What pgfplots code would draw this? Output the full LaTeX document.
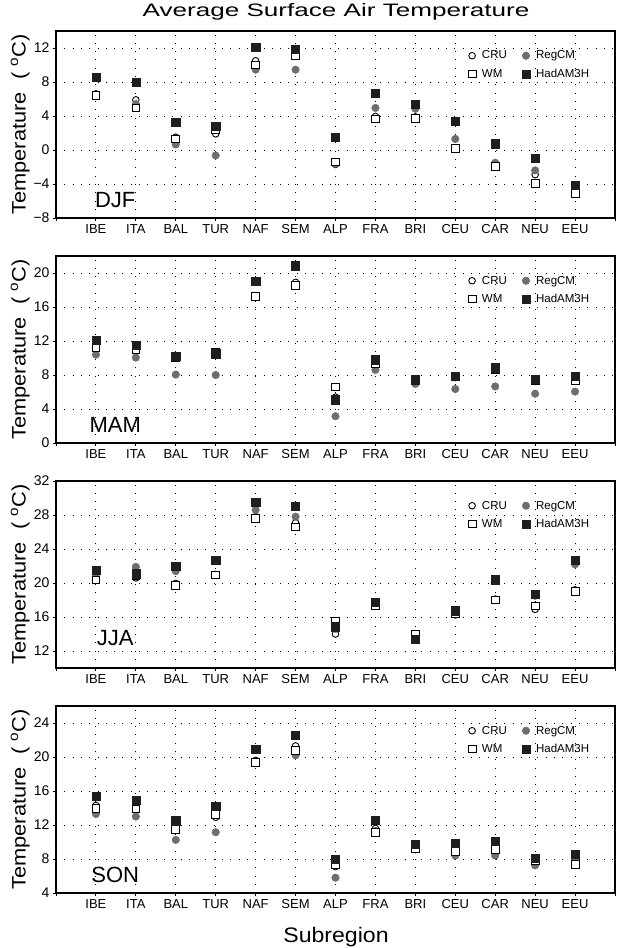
\documentclass[border=0pt]{standalone}
\usepackage{pgfplots}
\pgfplotsset{compat=1.18}
\usepackage{pgfplotstable}
\usepackage{fontspec}
\setmainfont{Liberation Sans}
\definecolor{regc}{HTML}{6E6E6E}
\definecolor{hadc}{HTML}{1E1E1E}

\pgfplotstableread{
x cru reg wm had
1 6.6 6.4 6.4 8.55
2 5.9 5.4 4.95 7.95
3 1.5 0.65 1.3 3.3
4 1.9 -0.65 2.4 2.8
5 10.5 9.45 10.0 12.1
6 11.4 9.45 11.1 11.9
7 -1.7 -1.6 -1.4 1.5
8 3.95 4.95 3.65 6.7
9 3.9 4.85 3.7 5.4
10 0.25 1.3 0.15 3.35
11 -1.8 -1.5 -1.9 0.75
12 -2.9 -2.4 -3.95 -0.95
13 -5.0 -4.5 -5.1 -4.15
}\djf

\pgfplotstableread{
x cru reg wm had
1 11.4 10.4 11.25 12.05
2 11.0 10.05 10.95 11.55
3 10.1 8.05 10.0 10.2
4 10.6 8.0 10.7 10.5
5 17.3 17.2 17.2 19.0
6 18.9 18.6 18.55 20.85
7 5.4 3.15 6.6 5.1
8 9.5 8.6 9.4 9.8
9 7.3 6.95 7.3 7.45
10 7.7 6.35 7.8 7.9
11 8.7 6.65 8.6 8.85
12 7.4 5.8 7.4 7.5
13 7.4 6.05 7.3 7.9
}\mam

\pgfplotstableread{
x cru reg wm had
1 20.7 21.0 20.35 21.5
2 20.6 21.9 20.9 21.1
3 19.95 21.4 19.7 22.0
4 21.0 22.6 20.95 22.7
5 27.8 28.6 27.55 29.55
6 27.1 27.8 26.6 29.0
7 14.0 14.6 15.5 14.85
8 17.3 17.6 17.4 17.7
9 13.8 13.6 13.95 13.4
10 16.25 16.6 16.4 16.75
11 18.1 20.3 18.0 20.4
12 16.9 18.5 17.3 18.65
13 19.2 22.2 19.0 22.7
}\jja

\pgfplotstableread{
x cru reg wm had
1 14.3 13.3 13.95 15.35
2 14.2 13.0 13.9 14.9
3 11.8 10.25 11.5 12.5
4 12.9 11.15 13.25 14.25
5 19.6 19.4 19.4 20.95
6 21.3 20.2 20.8 22.6
7 7.1 5.8 7.3 7.95
8 11.6 11.3 11.15 12.6
9 9.1 9.2 9.2 9.75
10 8.8 8.4 8.9 9.85
11 9.2 8.4 9.15 10.05
12 7.6 7.25 7.8 8.05
13 7.6 8.0 7.4 8.55
}\son

\pgfplotsset{
  mk/.style={only marks, legend image code/.code={\draw[##1] plot coordinates {(0pt,0pt)};}},
  cru/.style={mk, black, mark=*, mark size=3.3pt, mark options={fill=white, draw=black, line width=0.9pt}},
  reg/.style={mk, regc, mark=*, mark size=3.8pt, mark options={fill=regc, draw=regc}},
  wm/.style={mk, black, mark=square*, mark size=3.9pt, mark options={fill=white, draw=black, line width=0.9pt}},
  had/.style={mk, hadc, mark=square*, mark size=4.1pt, mark options={fill=hadc, draw=hadc}},
  panel/.style={
    width=559pt, height=187pt, scale only axis,
    xmin=0, xmax=14, xtick={0,...,14},
    xticklabels={,IBE,ITA,BAL,TUR,NAF,SEM,ALP,FRA,BRI,CEU,CAR,NEU,EEU,},
    tick align=outside, xtick pos=left, ytick pos=left,
    major tick length=3pt,
    every tick/.style={black, line width=1pt},
    axis line style={black, line width=1.2pt},
    xmajorgrids, ymajorgrids,
    grid style={black, line width=0.9pt, dash pattern=on 0.9pt off 7.4pt},
    x tick label style={font=\fontsize{13}{13}\selectfont},
    y tick label style={font=\fontsize{14}{14}\selectfont},
    ylabel={\scalebox{1.12}[1]{Temperature~~(~\textsuperscript{o}C)}},
    ylabel style={at={(axis description cs:-0.064,0.5)}, anchor=center, font=\fontsize{19.5}{19.5}\selectfont},
    legend columns=2,
    legend style={draw=none, fill=none, at={(axis description cs:0.737,0.905)}, anchor=north west,
      font=\fontsize{11.5}{11.5}\selectfont, inner sep=0pt, row sep=4.5pt,
      /tikz/every odd column/.append style={column sep=4pt},
      /tikz/every even column/.append style={column sep=13pt}},
    legend cell align=left,
  },
}

\begin{document}
\begin{tikzpicture}
\useasboundingbox (0pt,0pt) rectangle (619pt,-948pt);

\node[anchor=base] at (336pt,-16pt) {\fontsize{18}{18}\selectfont\scalebox{1.45}[1]{Average Surface Air Temperature}};

\begin{axis}[panel, at={(56pt,-31pt)}, anchor=north west,
  ymin=-8, ymax=14, ytick={-8,-4,0,4,8,12}, yticklabels={−8,−4,0,4,8,12}]
\addplot[cru] table[x=x,y=cru]{\djf};
\addplot[reg] table[x=x,y=reg]{\djf};
\addplot[wm] table[x=x,y=wm]{\djf};
\addplot[had] table[x=x,y=had]{\djf};
\legend{CRU,RegCM,WM,HadAM3H}
\node[font=\fontsize{22}{22}\selectfont] at (rel axis cs:0.106,0.095) {DJF};
\end{axis}

\begin{axis}[panel, at={(56pt,-256pt)}, anchor=north west,
  ymin=0, ymax=22, ytick={0,4,8,12,16,20}, yticklabels={0,4,8,12,16,20}]
\addplot[cru] table[x=x,y=cru]{\mam};
\addplot[reg] table[x=x,y=reg]{\mam};
\addplot[wm] table[x=x,y=wm]{\mam};
\addplot[had] table[x=x,y=had]{\mam};
\legend{CRU,RegCM,WM,HadAM3H}
\node[font=\fontsize{22}{22}\selectfont] at (rel axis cs:0.106,0.095) {MAM};
\end{axis}

\begin{axis}[panel, at={(56pt,-481pt)}, anchor=north west,
  ymin=10, ymax=32, ytick={12,16,20,24,28,32}, yticklabels={12,16,20,24,28,32}]
\addplot[cru] table[x=x,y=cru]{\jja};
\addplot[reg] table[x=x,y=reg]{\jja};
\addplot[wm] table[x=x,y=wm]{\jja};
\addplot[had] table[x=x,y=had]{\jja};
\legend{CRU,RegCM,WM,HadAM3H}
\node[font=\fontsize{22}{22}\selectfont] at (rel axis cs:0.106,0.16) {JJA};
\end{axis}

\begin{axis}[panel, at={(56pt,-706pt)}, anchor=north west,
  ymin=4, ymax=26, ytick={4,8,12,16,20,24}, yticklabels={4,8,12,16,20,24}]
\addplot[cru] table[x=x,y=cru]{\son};
\addplot[reg] table[x=x,y=reg]{\son};
\addplot[wm] table[x=x,y=wm]{\son};
\addplot[had] table[x=x,y=had]{\son};
\legend{CRU,RegCM,WM,HadAM3H}
\node[font=\fontsize{22}{22}\selectfont] at (rel axis cs:0.106,0.095) {SON};
\end{axis}

\node[anchor=base] at (336pt,-942pt) {\fontsize{21}{21}\selectfont\scalebox{1.1}[1]{Subregion}};
\end{tikzpicture}
\end{document}
